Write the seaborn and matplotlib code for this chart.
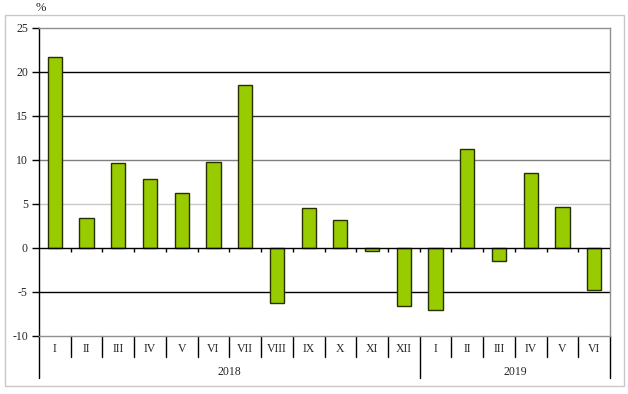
import matplotlib
matplotlib.use("Agg")
import matplotlib.pyplot as plt
import matplotlib.transforms as mtransforms
from matplotlib.patches import Rectangle
import pandas as pd
import seaborn as sns

months = ["I", "II", "III", "IV", "V", "VI", "VII", "VIII", "IX", "X", "XI", "XII",
          "I", "II", "III", "IV", "V", "VI"]
years = ["2018"] * 12 + ["2019"] * 6
values = [21.7, 3.4, 9.7, 7.8, 6.2, 9.8, 18.5, -6.3, 4.5, 3.2, -0.3, -6.6,
          -7.0, 11.3, -1.5, 8.5, 4.7, -4.8]
y_ticks = [-10, -5, 0, 5, 10, 15, 20, 25]

df = pd.DataFrame({"key": [f"{y}-{m}" for y, m in zip(years, months)],
                   "month": months, "year": years, "value": values})

sns.set_style("white")
plt.rcParams["font.family"] = ["Liberation Serif", "DejaVu Serif"]
plt.rcParams["font.size"] = 8.5
plt.rcParams["axes.unicode_minus"] = False

fig = plt.figure(figsize=(6.28, 3.94), dpi=100)
ax = fig.add_axes([39 / 628, 1 - 336 / 394, (610 - 39) / 628, (336 - 28) / 394])

# outer frame of the chart
fig.patches.append(Rectangle((5 / 628, 1 - 386 / 394), 619 / 628, 371 / 394,
                             transform=fig.transFigure, fill=False,
                             edgecolor="#c8c8c8", linewidth=1))

# horizontal gridlines
grid_colors = {20: "#000000", 15: "#303030", 10: "#808080", 5: "#c8c8c8", -5: "#000000"}
for yv, c in grid_colors.items():
    ax.axhline(yv, color=c, linewidth=1, zorder=0)

sns.barplot(data=df, x="key", y="value", color="#99cc00", edgecolor="#263000",
            linewidth=1, width=0.45, saturation=1, ax=ax, zorder=2)

ax.axhline(0, color="black", linewidth=1, zorder=3)
n = len(values)
ax.vlines([i + 0.5 for i in range(n - 1)], -0.45, 0, color="black", linewidth=1, zorder=3)

ax.set_ylim(-10, 25)
ax.set_xlim(-0.5, n - 0.5)
ax.set_yticks(y_ticks)
ax.set_xticks([])
ax.set_xlabel("")
ax.set_ylabel("")
ax.tick_params(axis="y", direction="out", length=5, width=1, color="black",
               left=True, pad=3, labelsize=8.5)

for side in ["top", "right", "bottom"]:
    ax.spines[side].set_color("#909090")
    ax.spines[side].set_linewidth(1)
ax.spines["left"].set_color("black")
ax.spines["left"].set_linewidth(1)

# category axis below the plot
trans = mtransforms.blended_transform_factory(ax.transData, ax.transAxes)
row1 = -(357 - 336) / 308
row2 = -(378 - 336) / 308
for i, m in enumerate(months):
    ax.text(i, -(349 - 336) / 308, m, transform=trans, ha="center", va="center")
for i in range(1, n):
    if years[i] != years[i - 1]:
        continue
    ax.plot([i - 0.5, i - 0.5], [0, row1], transform=trans, color="black",
            linewidth=1, clip_on=False)
year_edges = [-0.5] + [i - 0.5 for i in range(1, n) if years[i] != years[i - 1]] + [n - 0.5]
for xe in year_edges:
    ax.plot([xe, xe], [0, row2], transform=trans, color="black", linewidth=1, clip_on=False)
for a, b in zip(year_edges[:-1], year_edges[1:]):
    yr = years[int(a + 0.5)]
    ax.text((a + b) / 2, -(372 - 336) / 308, yr, transform=trans,
            ha="center", va="center")

fig.text(41 / 628, 1 - 8 / 394, "%", ha="center", va="center", fontsize=9)

fig.savefig("out.png", dpi=100)
plt.close(fig)
